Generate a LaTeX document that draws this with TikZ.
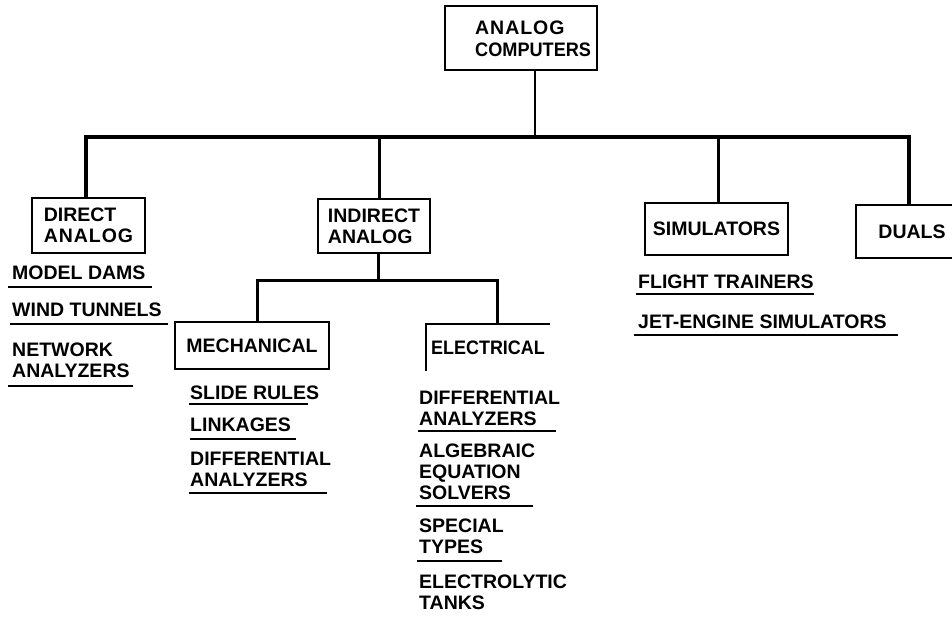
\documentclass[tikz,border=0pt]{standalone}
\usepackage{fontspec}
\setmainfont{Liberation Sans}
\newcommand\lbl{\fontsize{19.5}{21}\selectfont\bfseries}
\newcommand\toplbl{\fontsize{19.5}{22}\selectfont\bfseries}
\tikzset{
  box/.style={draw, line width=1.8pt, inner sep=0pt, align=left, font=\lbl},
  item/.style={anchor=west, inner sep=0pt, align=left, font=\lbl},
  uline/.style={line width=1.6pt},
  mainbar/.style={line width=4pt, line join=miter},
  drop/.style={line width=3pt},
  stemline/.style={line width=2pt},
}
\begin{document}
\begin{tikzpicture}[x=1pt, y=-1pt]
\useasboundingbox (0,0) rectangle (952,616);

% top box
\node[box, minimum width=152pt, minimum height=64pt] (top) at (521,38) {};
\node[item, font=\toplbl] (toptext) at (475,39) {{\addfontfeatures{LetterSpace=5}ANALOG}\\{\addfontfeatures{FakeStretch=0.93}COMPUTERS}};

% first level boxes
\node[box, minimum width=113pt, minimum height=55pt] (direct) at (88.5,225.5) {DIRECT\\{\addfontfeatures{LetterSpace=5}ANALOG}};
\node[box, minimum width=112pt, minimum height=54pt] (indirect) at (374,226) {INDIRECT\\ANALOG};
\node[box, minimum width=143pt, minimum height=52pt] (sim) at (716.5,229) {SIMULATORS};
\node[box, minimum width=112pt, minimum height=53pt] (duals) at (912,231.5) {DUALS};

% junctions on the main bar
\coordinate (jd) at (86,137);
\coordinate (ji) at (379,137);
\coordinate (js) at (718,137);
\coordinate (jdu) at (909,137);
\coordinate (jt) at (535,137);

\draw[stemline] (jt |- top.south) -- (jt);
\draw[mainbar] (jd |- direct.north) -- (jd) -- (jdu) -- (jdu |- duals.north);
\draw[drop] (ji) -- (ji |- indirect.north);
\draw[drop] (js) -- (js |- sim.north);

% second level
\node[box, minimum width=154pt, minimum height=47pt] (mech) at (252,345.5) {MECHANICAL};
\node[box, draw=none, minimum width=122pt, minimum height=45pt] (elec) at (488,347.5) {\addfontfeatures{FakeStretch=0.92}ELECTRICAL};
\draw[line width=1.8pt] (elec.south west) -- (elec.north west) -- (elec.north east);

\coordinate (ki) at (378,280);
\coordinate (km) at (257,280);
\coordinate (ke) at (497,280);
\draw[drop] (ki |- indirect.south) -- (ki);
\draw[drop, line join=miter] (km |- mech.north) -- (km) -- (ke) -- (ke |- elec.north);

% direct analog items
\node[item] (md) at (12,273) {MODEL DAMS};
\draw[uline] (8,287) -- (152,287);
\node[item] (wt) at (12,310) {WIND TUNNELS};
\draw[uline] (10,324) -- (168,324);
\node[item] (na) at (12,360) {NETWORK\\ANALYZERS};
\draw[uline] (8,386) -- (133,386);

% mechanical items
\node[item] (sr) at (190,393) {SLIDE RULES};
\draw[uline] (189,404) -- (308,404);
\node[item] (lk) at (190,425) {LINKAGES};
\draw[uline] (190,439) -- (296,439);
\node[item] (mda) at (190,469) {DIFFERENTIAL\\ANALYZERS};
\draw[uline] (189,493) -- (327,493);

% electrical items
\node[item] (eda) at (419,408.5) {DIFFERENTIAL\\ANALYZERS};
\draw[uline] (418,431) -- (556,431);
\node[item] (aes) at (419,472) {ALGEBRAIC\\EQUATION\\SOLVERS};
\draw[uline] (416,506) -- (533,506);
\node[item] (st) at (419,536.5) {SPECIAL\\TYPES};
\draw[uline] (417,561) -- (502,561);
\node[item] (et) at (419,592) {ELECTROLYTIC\\TANKS};

% simulator items
\node[item] (ft) at (638,282) {FLIGHT TRAINERS};
\draw[uline] (636,294) -- (814,294);
\node[item] (jes) at (638,322) {JET-ENGINE SIMULATORS};
\draw[uline] (634,335) -- (898,335);
\end{tikzpicture}
\end{document}
